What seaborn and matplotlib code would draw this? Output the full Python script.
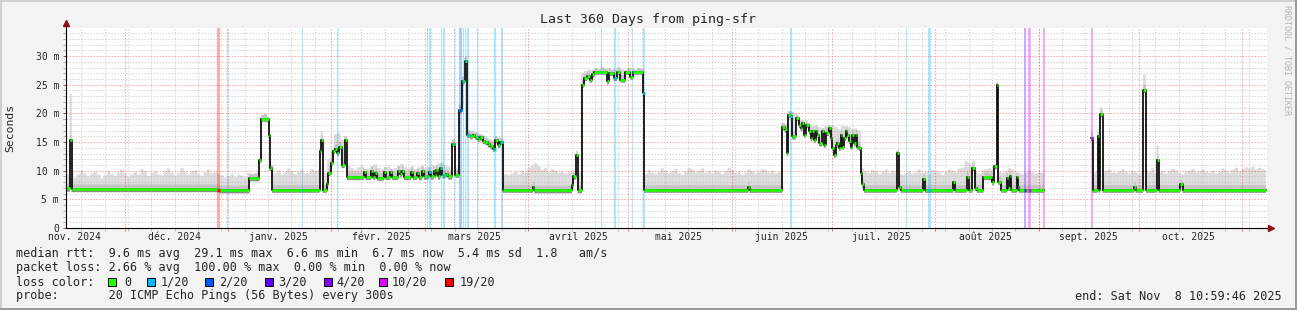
import numpy as np
import pandas as pd
import matplotlib
matplotlib.use("Agg")
import matplotlib.pyplot as plt
from matplotlib.patches import Rectangle
import seaborn as sns

nan = float("nan")

# ---------------------------------------------------------------- data
chart_origin = "2024-11-13 18:12"     # day 0 of the x axis
span_days = 360

# median rtt (ms) as a step series: value holds from med_day[i] to med_day[i+1]
med_day = [-0.3, 0.9, 1.4, 45.4, 45.7, 54.7, 57.7, 58.3, 60.4, 60.7, 61.5,
           75.7, 76.2, 76.6, 77.9, 78.3, 79.0, 79.6, 80.2, 81.0, 81.4, 82.3, 83.2, 83.9,
           88.9, 89.5, 91.2, 91.8, 92.4, 93.0, 94.9, 95.5, 96.9, 97.5, 99.2, 99.8, 100.4, 101.0,
           103.1, 103.7, 104.9, 105.5, 106.4, 107.0, 108.4, 109.0, 109.9, 110.3, 110.6, 111.2,
           111.9, 112.5, 113.5, 114.3,
           115.5, 116.4, 117.5, 118.4, 119.2, 119.9, 120.9, 121.6, 122.4, 123.2, 123.9, 124.6,
           125.4, 126.2, 126.9, 127.8, 128.4, 129.2, 129.9, 130.6,
           139.7, 140.1, 151.4, 151.8, 152.7, 153.1, 154.4, 154.9, 155.9, 156.7, 157.4, 158.1,
           161.9, 162.4, 163.9, 164.9, 165.9, 167.4, 168.9, 169.6, 172.7, 173.1,
           204.2, 204.6, 214.4, 215.1, 215.9, 216.2, 216.9, 217.4, 218.4, 219.4, 219.9, 220.4,
           220.9, 221.4, 222.4, 222.9, 223.4, 223.9, 224.4, 224.9, 225.4, 226.4, 226.9, 227.4,
           228.4, 228.9, 229.4, 229.9, 230.4, 230.9, 231.4, 231.9, 232.4, 232.9, 233.4, 233.9,
           234.4, 234.9, 235.4, 235.9, 236.4, 236.9, 237.4, 237.9, 238.4, 238.9,
           248.7, 249.4, 249.9, 256.7, 257.2, 265.7, 266.1, 269.7, 270.3, 271.4, 272.1, 272.7,
           274.7, 277.4, 277.9, 278.7, 279.1, 280.1, 281.7, 282.1, 282.6, 283.1, 284.7, 285.1,
           285.3, 292.9,
           306.9, 307.4, 308.9, 309.2, 309.7, 310.4, 319.9, 320.3, 322.6, 323.4, 326.7, 327.2,
           333.7, 334.4, 359.4]
med_ms = [6.9, 15.4, 6.8, 6.7, 6.6, 8.7, 11.9, 19.1, 16.2, 10.5, 6.7,
          13.4, 15.4, 6.7, 7.6, 9.6, 11.3, 13.4, 13.8, 13.1, 14.2, 11.0, 15.4, 8.9,
          9.7, 8.9, 9.9, 8.9, 9.6, 8.8, 9.8, 8.9, 9.7, 8.9, 10.0, 9.4, 9.9, 8.9,
          9.8, 8.9, 9.6, 8.9, 9.9, 9.0, 9.7, 9.0, 9.9, 9.2, 10.2, 9.0,
          10.5, 9.2, 9.4, 9.0,
          14.7, 9.3, 20.6, 25.6, 29.1, 16.3, 16.0, 16.3, 15.9, 15.6, 15.8, 15.2,
          15.0, 14.6, 14.3, 13.8, 15.3, 14.5, 15.0, 6.7,
          7.2, 6.6, 7.5, 9.0, 12.8, 6.6, 25.0, 26.2, 26.5, 25.9, 26.8, 27.3,
          25.6, 27.1, 26.2, 27.3, 25.9, 27.3, 26.4, 27.3, 23.5, 6.7,
          7.2, 6.7, 17.6, 17.2, 13.1, 19.7, 19.5, 16.0, 19.2, 18.0, 17.4, 18.3,
          16.3, 18.0, 16.9, 15.7, 16.9, 15.4, 16.9, 16.3, 14.8, 16.9, 14.5, 16.6,
          17.4, 15.7, 14.0, 12.8, 14.5, 14.8, 14.0, 16.3, 14.2, 15.7, 16.9, 16.3,
          15.2, 14.2, 16.3, 14.8, 16.3, 14.2, 14.0, 9.6, 7.6, 6.7,
          13.1, 7.2, 6.7, 8.6, 6.7, 8.0, 6.7, 8.9, 6.7, 10.5, 7.0, 6.7,
          8.9, 8.0, 10.8, 25.0, 8.1, 6.7, 8.8, 7.0, 9.0, 6.7, 8.9, 7.2,
          6.7, nan,
          15.7, 6.7, 16.0, 6.7, 19.9, 6.7, 7.2, 6.7, 24.1, 6.7, 11.8, 6.7,
          7.6, 6.7, nan]

# upper edge of the smoke (ms), one value per day
smoke_bin_days = 1
smoke_top_ms = [
    # days 0-45
    9.3, 9.8, 8.8, 9.4, 10.0, 9.5, 9.0, 9.5, 9.8, 9.3, 8.7, 9.2, 9.9, 9.4, 9.1, 9.7,
    10.2, 9.5, 8.9, 9.4, 9.8, 9.3, 10.3, 9.9, 9.1, 9.6, 9.9, 9.4, 9.2, 9.9, 10.4, 9.7,
    9.2, 9.6, 10.5, 9.8, 9.3, 9.9, 10.1, 9.4, 9.1, 9.7, 10.3, 9.6, 9.8, 9.5,
    # 46-53
    9.2, 8.8, 9.0, 9.4, 8.9, 9.3, 9.1, 8.8,
    # 54-61
    9.6, 9.4, 9.5, 10.2, 19.7, 19.9, 12.3, 11.0,
    # 62-75
    9.6, 10.1, 9.3, 9.8, 10.4, 9.9, 9.4, 9.8, 10.2, 9.5, 9.7, 10.3, 9.9, 10.2,
    # 76-83
    10.0, 9.6, 12.0, 13.5, 16.4, 16.6, 15.4, 16.0,
    # 84-115
    10.9, 10.5, 10.2, 10.6, 10.9, 10.3, 10.4, 10.8, 11.1, 10.5, 10.2, 10.6, 10.7, 10.3,
    10.5, 10.9, 11.2, 10.6, 10.4, 10.8, 10.3, 10.6, 10.9, 10.4, 10.6, 11.0, 10.8, 11.3,
    11.4, 10.9, 10.7, 10.5,
    # 116-119
    10.5, 10.8, 10.5, 10.5,
    # 120-129
    17.0, 16.8, 16.7, 16.4, 16.3, 16.0, 15.6, 15.4, 16.0, 15.8,
    # 130-131
    15.6, 9.4,
    # 132-149
    9.2, 9.5, 9.8, 9.4, 10.0, 9.7, 10.5, 10.9, 11.3, 10.8, 10.1, 10.5, 9.8, 10.2, 10.0,
    9.6, 9.9, 9.5,
    # 150-153
    9.8, 9.9, 9.6, 9.7,
    # 154-171
    27.0, 27.4, 27.6, 27.5, 27.9, 27.7, 28.0, 27.8, 27.9, 27.6, 27.8, 28.0, 27.7, 27.5,
    27.9, 27.8, 27.6, 27.9,
    # 172-173
    27.8, 9.4,
    # 174-213
    10.1, 9.7, 9.4, 9.8, 10.4, 10.0, 9.6, 9.9, 10.3, 9.6,
    9.3, 9.8, 10.5, 10.2, 9.7, 10.0, 10.4, 9.6, 9.9, 9.5,
    10.1, 9.8, 9.4, 9.9, 10.5, 10.1, 9.6, 9.9, 9.3, 9.7,
    10.2, 9.9, 9.5, 9.8, 10.3, 10.1, 9.7, 10.0, 9.6, 9.8,
    # 214-215
    18.3, 18.2,
    # 216-237
    20.4, 20.3, 19.8, 19.0, 18.8, 18.6, 18.2, 17.8, 17.9, 17.6, 17.4, 17.8, 18.0, 17.9,
    17.6, 17.2, 17.8, 17.7, 17.6, 17.3, 17.4, 17.0,
    # 238-239
    10.4, 9.9,
    # 240-247
    9.6, 10.1, 9.9, 9.4, 9.8, 10.2, 9.6, 10.0,
    # 248-249
    9.7, 9.5,
    # 250-271
    9.3, 9.6, 9.9, 9.5, 9.7, 10.2, 9.6, 9.8, 9.4, 10.1, 9.9, 9.6, 9.3, 9.8, 10.2, 10.0,
    9.7, 10.4, 10.5, 11.7, 11.4, 11.0,
    # 272-293
    9.8, 9.5, 10.1, 10.3, 10.4, 10.2, 10.0, 9.8, 9.6, 9.9, 10.5, 10.2, 9.8, 9.6, 9.4,
    9.7, 10.0, 9.7, 9.5, 9.8, 9.6, 9.5,
    # 294-305 (no data)
    nan, nan, nan, nan, nan, nan, nan, nan, nan, nan, nan, nan,
    # 306-307
    9.6, 9.4,
    # 308-359
    9.8, 9.5, 9.6, 10.0, 10.2, 9.7, 9.6, 9.9, 10.3, 9.8,
    9.5, 10.0, 9.7, 9.4, 9.9, 10.2, 9.8, 10.4, 9.6, 9.7,
    10.0, 9.5, 9.9, 10.3, 10.1, 9.6, 9.4, 9.8, 10.0, 10.3,
    9.7, 9.9, 10.2, 9.8, 9.6, 10.0, 9.5, 9.8, 10.4, 10.1,
    9.7, 10.2, 10.5, 9.9, 10.3, 10.6, 10.4, 10.7, 10.2, 10.5,
    10.3, 10.0]

# smoke peaks above latency spikes
spike_start = [0.8, 76.0, 115.4, 117.4, 118.4, 119.2, 152.5, 160.0, 248.6, 271.3, 278.6,
               306.8, 308.8, 309.6, 322.5, 326.6]
spike_end = [1.5, 76.7, 116.3, 118.4, 119.2, 119.9, 153.1, 160.4, 249.4, 272.1, 279.1,
             307.4, 309.2, 310.4, 323.4, 327.2]
spike_top = [23.4, 16.9, 15.5, 21.5, 26.5, 29.8, 13.4, 29.4, 13.5, 11.7, 25.4,
             17.0, 17.6, 21.1, 26.8, 14.5]

# packet loss events
loss_day = [45.0, 48.1, 70.5, 81.0, 107.8, 108.6, 112.0, 112.8, 116.0, 117.5, 118.6, 119.2,
            120.0, 123.0, 128.0, 130.2, 160.0, 164.0, 169.5, 172.8, 216.8, 251.4, 258.2,
            286.9, 288.2, 292.7, 306.8]
loss_len = [0.8, 0.3, 0.3, 0.3, 0.5, 0.5, 0.5, 0.4, 0.4, 0.9, 0.35, 0.35,
            0.5, 0.3, 0.5, 0.4, 0.5, 0.5, 0.3, 0.5, 0.6, 0.5, 0.8,
            0.5, 0.8, 0.6, 0.6]
loss_level = ["19/20", "1/20", "1/20", "1/20", "1/20", "1/20", "1/20", "1/20", "1/20", "2/20",
              "1/20", "1/20", "1/20", "1/20", "1/20", "1/20", "1/20", "1/20", "1/20", "1/20",
              "1/20", "1/20", "1/20", "3/20", "10/20", "10/20", "10/20"]

loss_labels = ["0", "1/20", "2/20", "3/20", "4/20", "10/20", "19/20"]
loss_colors = ["#26ff00", "#00b8ff", "#0059ff", "#5e00ff", "#7e00ff", "#dd00ff", "#ff0000"]

month_labels = ["nov. 2024", "déc. 2024", "janv. 2025", "févr. 2025", "mars 2025", "avril 2025",
                "mai 2025", "juin 2025", "juil. 2025", "août 2025", "sept. 2025", "oct. 2025"]
y_ticks_ms = [0, 5, 10, 15, 20, 25, 30]

title = "Last 360 Days from ping-sfr"
stat_rtt = "median rtt:  9.6 ms avg  29.1 ms max  6.6 ms min  6.7 ms now  5.4 ms sd  1.8   am/s"
stat_loss = "packet loss: 2.66 % avg  100.00 % max  0.00 % min  0.00 % now"
probe_txt = "probe:       20 ICMP Echo Pings (56 Bytes) every 300s"
end_txt = "end: Sat Nov  8 10:59:46 2025"

# ---------------------------------------------------------------- style
sns.set_style("white")
plt.rcParams["font.family"] = ["DejaVu Sans Mono", "DejaVu Sans"]

W, H = 1297, 310
fig = plt.figure(figsize=(W / 100, H / 100), dpi=100, facecolor="#f3f3f3")


def fx(px):
    return px / W


def fy(py):
    return 1 - py / H


ax = fig.add_axes([fx(66), fy(228), (1267 - 66) / W, 200 / H])
ax.set_facecolor("white")
x0 = -0.3
ax.set_xlim(x0, x0 + span_days)
ax.set_ylim(0, 34.9)
for s in ax.spines.values():
    s.set_visible(False)

# ---------------------------------------------------------------- time helpers
origin = pd.Timestamp(chart_origin)
day = pd.Timedelta(days=1)
month_starts = pd.date_range("2024-12-01", "2025-11-01", freq="MS")
month_days = ((month_starts - origin) / day).to_numpy()
label_dates = pd.date_range("2024-11-01", "2025-10-01", freq="MS") + pd.Timedelta(days=15)
label_days = ((label_dates - origin) / day).to_numpy()
mondays = pd.date_range("2024-11-18", "2025-11-08", freq="7D")
monday_days = ((mondays - origin) / day).to_numpy()

# ---------------------------------------------------------------- smoke
md = np.array(med_day)
mv = np.array(med_ms)
t = np.arange(x0, x0 + span_days, 0.02)
idx = np.clip(np.searchsorted(md, t, side="right") - 1, 0, None)
M = mv[idx]
bg = np.array(smoke_top_ms)[np.clip(np.floor(t / smoke_bin_days).astype(int), 0,
                                    len(smoke_top_ms) - 1)]
sp = np.zeros_like(t)
for s0, s1, top in zip(spike_start, spike_end, spike_top):
    m = (t >= s0) & (t < s1)
    sp[m] = np.maximum(sp[m], top)
S = np.fmax(np.fmax(bg, M + 0.3), sp)
S[np.isnan(M)] = nan

ax.fill_between(t, M - 0.5, S, color="#dddddd", lw=0, zorder=1)
ax.fill_between(t, M, np.fmin(M + 0.8, S), color="#c6c6c6", lw=0, zorder=1.1)
ax.fill_between(t, M - 0.55, M, color="#8a8a8a", lw=0, zorder=1.2)

# ---------------------------------------------------------------- loss bars
lvl_color = dict(zip(loss_labels, loss_colors))
for d, ln, lv in zip(loss_day, loss_len, loss_level):
    ax.axvspan(d, d + ln, color=lvl_color[lv], alpha=0.33, lw=0, zorder=2)

# ---------------------------------------------------------------- grid
dash = (0, (1.5, 1.5))
for v in range(1, 35):
    if v % 5 == 0:
        ax.axhline(v, color="#ff0000", alpha=0.35, lw=0.72, ls=dash, zorder=2.5)
    else:
        ax.axhline(v, color="#b0b0b0", alpha=0.5, lw=0.72, ls=dash, zorder=2.5)
for d in monday_days:
    ax.axvline(d, color="#b0b0b0", alpha=0.5, lw=0.72, ls=dash, zorder=2.5)
for d in month_days:
    ax.axvline(d, color="#ff0000", alpha=0.35, lw=0.72, ls=dash, zorder=2.5)

# ---------------------------------------------------------------- median line (seaborn)
rows = []
seg = 0
for i in range(len(md)):
    if np.isnan(mv[i]):
        seg += 1
        continue
    rows.append((md[i], mv[i], seg))
    nxt = md[i + 1] if i + 1 < len(md) else x0 + span_days
    if i + 1 >= len(md) or np.isnan(mv[i + 1]):
        rows.append((nxt, mv[i], seg))
df = pd.DataFrame(rows, columns=["day", "ms", "seg"])
sns.lineplot(data=df, x="day", y="ms", units="seg", estimator=None, sort=False,
             color="#111111", lw=1.3, drawstyle="steps-post", ax=ax, legend=False, zorder=4)

# coloured median segments
starts, ends, vals = [], [], []
for i in range(len(md) - 1):
    if not np.isnan(mv[i]):
        starts.append(md[i])
        ends.append(md[i + 1])
        vals.append(mv[i])
ax.hlines(vals, starts, ends, colors=loss_colors[0], lw=2.0, zorder=5, capstyle="butt")
for d, ln, lv in zip(loss_day, loss_len, loss_level):
    j = max(np.searchsorted(md, d + ln / 2, side="right") - 1, 0)
    if not np.isnan(mv[j]):
        ax.hlines(mv[j], d, d + ln, colors=lvl_color[lv], lw=2.0, zorder=6, capstyle="butt")

ax.set_xlabel("")
ax.set_ylabel("")

# ---------------------------------------------------------------- axes, ticks
ax.set_yticks(y_ticks_ms, [("%d m" % v) if v else "0" for v in y_ticks_ms])
ax.set_yticks(range(1, 35), minor=True)
ax.tick_params(axis="y", which="major", length=2, width=0.7, color="#aa4444",
               labelsize=7, pad=3, direction="out", left=True)
ax.tick_params(axis="y", which="minor", length=2, width=0.7, color="#aaaaaa",
               direction="out", left=True)
ax.set_xticks(month_days, [""] * len(month_days))
ax.set_xticks(monday_days, minor=True)
ax.tick_params(axis="x", which="major", length=2, width=0.7, color="#ff6666",
               direction="out", bottom=True)
ax.tick_params(axis="x", which="minor", length=2, width=0.7, color="#bbbbbb",
               direction="out", bottom=True)
for d, lab in zip(label_days, month_labels):
    ax.text(d, -0.045, lab, transform=ax.get_xaxis_transform(), ha="center", va="center",
            fontsize=7, clip_on=False)

# axis lines with arrows
ax.plot([0, 0], [0, 1.02], transform=ax.transAxes, color="black", lw=0.8,
        clip_on=False, zorder=7)
ax.plot([0], [1.025], transform=ax.transAxes, marker="^", ms=4.5, color="#8b1010",
        clip_on=False, zorder=7)
ax.plot([0, 1.002], [0, 0], transform=ax.transAxes, color="black", lw=0.8,
        clip_on=False, zorder=7)
ax.plot([1.003], [0], transform=ax.transAxes, marker=">", ms=4.5, color="#8b1010",
        clip_on=False, zorder=7)

# ---------------------------------------------------------------- texts
fig.text(fx(648.5), fy(19), title, ha="center", va="center", fontsize=9.5)
fig.text(fx(10.5), fy(128), "Seconds", rotation=90, ha="center", va="center", fontsize=8.2)
fig.text(fx(1287), fy(60), "RRDTOOL / TOBI OETIKER", rotation=-90, ha="center", va="center",
         fontsize=6, color="#b4b4b4")

fs = 8.5
fig.text(fx(16.5), fy(254), stat_rtt, ha="left", va="center", fontsize=fs)
fig.text(fx(16.5), fy(268), stat_loss, ha="left", va="center", fontsize=fs)
fig.text(fx(16.5), fy(282), "loss color:", ha="left", va="center", fontsize=fs)
box_x = [107.5, 146.7, 204.6, 265.4, 323.8, 379.2, 445.0]
text_x = [124.0, 160.8, 218.8, 277.9, 336.3, 391.7, 459.2]
for bx, tx, lab, col in zip(box_x, text_x, loss_labels, loss_colors):
    fig.add_artist(Rectangle((fx(bx), fy(286)), 8 / W, 8 / H, transform=fig.transFigure,
                             facecolor=col, edgecolor="black", lw=0.7))
    fig.text(fx(tx), fy(282), lab, ha="left", va="center", fontsize=fs)
fig.text(fx(16.5), fy(296), probe_txt, ha="left", va="center", fontsize=fs)
fig.text(fx(1282), fy(296), end_txt, ha="right", va="center", fontsize=fs)

# frame
fig.add_artist(Rectangle((0, 1 - 2 / H), 1, 2 / H, transform=fig.transFigure,
                         facecolor="#d0d0d0", lw=0))
fig.add_artist(Rectangle((0, 0), 2 / W, 1, transform=fig.transFigure,
                         facecolor="#d0d0d0", lw=0))
fig.add_artist(Rectangle((0, 0), 1, 2 / H, transform=fig.transFigure,
                         facecolor="#9a9a9a", lw=0))
fig.add_artist(Rectangle((1 - 2 / W, 0), 2 / W, 1, transform=fig.transFigure,
                         facecolor="#9a9a9a", lw=0))

fig.savefig("out.png", dpi=100, facecolor=fig.get_facecolor())
